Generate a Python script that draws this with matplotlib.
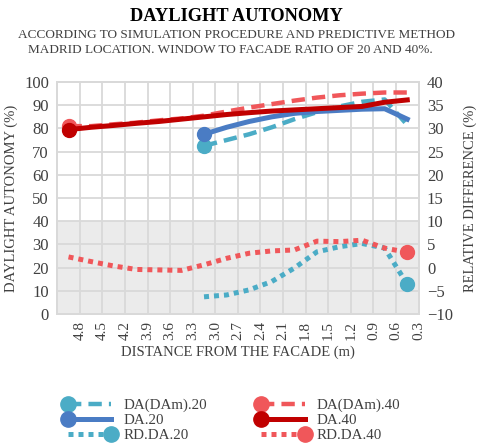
import matplotlib
matplotlib.use('Agg')
import matplotlib.pyplot as plt
from matplotlib.legend_handler import HandlerLine2D
import numpy as np

plt.rcParams['font.family'] = ['Liberation Serif', 'DejaVu Serif']

# -------- data --------
dist = [4.95, 4.65, 4.35, 4.05, 3.75, 3.45, 3.15, 2.85,
        2.55, 2.25, 1.95, 1.65, 1.35, 1.05, 0.75, 0.45]
dist20 = dist[6:]

dam20 = [72.5, 75.0, 77.5, 80.5, 84.0, 87.0, 89.5, 91.5, 92.5, 81.5]
da20 = [77.5, 80.5, 83.0, 85.0, 86.5, 87.3, 87.8, 88.3, 88.5, 84.0]
dam40 = [81.0, 81.0, 81.8, 82.5, 83.5, 84.3, 85.5, 87.3,
         89.0, 90.5, 92.0, 93.3, 94.3, 95.0, 95.5, 95.5]
da40 = [79.5, 80.5, 81.3, 82.2, 83.0, 84.0, 85.0, 86.0,
        86.8, 87.5, 88.0, 88.5, 89.0, 89.5, 91.3, 92.3]
rd20 = [-6.3, -5.9, -4.8, -3.0, -0.1, 3.4, 4.5, 5.2, 4.2, -3.6]
rd40 = [2.3, 1.3, 0.35, -0.4, -0.5, -0.6, 0.6, 2.0,
        3.1, 3.6, 3.8, 5.7, 5.6, 5.9, 4.2, 3.3]

xticks = [4.8, 4.5, 4.2, 3.9, 3.6, 3.3, 3.0, 2.7, 2.4, 2.1,
          1.8, 1.5, 1.2, 0.9, 0.6, 0.3]

# colours
c_lblue = '#4BACC6'
c_blue = '#4A7CC4'
c_dred = '#C00000'
c_lred = '#F0575A'
grid_c = '#D9D9D9'
txt_c = '#404040'


class EndMarkerHandler(HandlerLine2D):
    '''keep the marker only at one end of the legend line, like the plot'''
    def create_artists(self, legend, orig_handle, xdescent, ydescent,
                       width, height, fontsize, trans):
        arts = super().create_artists(legend, orig_handle, xdescent, ydescent,
                                      width, height, fontsize, trans)
        arts[-1].set_markevery(orig_handle.get_markevery())
        return arts


fig = plt.figure(figsize=(4.85, 4.46), dpi=100)
ax = fig.add_axes([0.118, 0.296, 0.745, 0.520])
ax2 = ax.twinx()

# shaded lower band and grid
ax.axhspan(0, 40, color='#EBEBEB', zorder=0, lw=0)
ax.set_xlim(5.1, 0.3)
ax.set_ylim(0, 100)
ax2.set_ylim(-10, 40)
ax.set_xticks(np.arange(0.3, 5.11, 0.3), minor=True)
ax.set_xticks(xticks)
ax.set_xticklabels(['%.1f' % t for t in xticks], rotation=90, fontsize=11)
ax.set_yticks(np.arange(0, 101, 10))
ax2.set_yticks(np.arange(-10, 41, 5))
ax.grid(True, which='both', axis='x', color=grid_c, lw=1.3, zorder=1)
ax.grid(True, which='major', axis='y', color=grid_c, lw=1.3, zorder=1)
ax.set_axisbelow(True)
ax.tick_params(axis='y', labelsize=12, length=0, pad=6, labelcolor=txt_c)
ax2.tick_params(axis='y', labelsize=12, length=0, pad=6, labelcolor=txt_c)
ax.tick_params(axis='x', which='both', length=0, pad=5, labelcolor=txt_c)
for a in (ax, ax2):
    for s in a.spines.values():
        s.set_color(grid_c)
        s.set_linewidth(1.3)

dash = (0, (3, 1.6))
dot = (0, (1, 1))

l1, = ax.plot(dist20, dam20, color=c_lblue, lw=3.2, ls=dash, dash_capstyle='butt',
              marker='o', ms=10, markevery=[0], label='DA(DAm).20', zorder=3)
l2, = ax.plot(dist20, da20, color=c_blue, lw=3.6, marker='o', ms=10,
              markevery=[0], label='DA.20', zorder=3)
l4, = ax.plot(dist, dam40, color=c_lred, lw=3.2, ls=dash, dash_capstyle='butt',
              marker='o', ms=10, markevery=[0], label='DA(DAm).40', zorder=3)
l5, = ax.plot(dist, da40, color=c_dred, lw=3.6, marker='o', ms=10,
              markevery=[0], label='DA.40', zorder=4)
l3, = ax2.plot(dist20, rd20, color=c_lblue, lw=3.6, ls=dot, dash_capstyle='butt',
               marker='o', ms=10, markevery=[-1], label='RD.DA.20', zorder=3)
l6, = ax2.plot(dist, rd40, color=c_lred, lw=3.6, ls=dot, dash_capstyle='butt',
               marker='o', ms=10, markevery=[-1], label='RD.DA.40', zorder=3)

ax.set_ylabel('DAYLIGHT AUTONOMY (%)', fontsize=10.5, labelpad=4, color=txt_c)
ax2.set_ylabel('RELATIVE DIFFERENCE (%)', fontsize=10.5, labelpad=8, color=txt_c)
ax.set_xlabel('DISTANCE FROM THE FACADE (m)', fontsize=10.5, labelpad=4, color=txt_c)

fig.text(0.487, 0.963, 'DAYLIGHT AUTONOMY', ha='center', va='center',
         fontsize=13.2, fontweight='bold')
fig.text(0.487, 0.922, 'ACCORDING TO SIMULATION PROCEDURE AND PREDICTIVE METHOD',
         ha='center', va='center', fontsize=9.5, color=txt_c)
fig.text(0.475, 0.889, 'MADRID LOCATION. WINDOW TO FACADE RATIO OF 20 AND 40%.',
         ha='center', va='center', fontsize=9.5, color=txt_c)

leg = fig.legend(handles=[l1, l2, l3, l4, l5, l6], ncol=2, loc='upper center',
                 bbox_to_anchor=(0.478, 0.12), frameon=False, fontsize=10.8,
                 numpoints=2, handlelength=3.5, handletextpad=0.5,
                 columnspacing=3.3, labelspacing=0.1, borderaxespad=0,
                 markerscale=1.1,
                 handler_map={l: EndMarkerHandler() for l in (l1, l2, l3, l4, l5, l6)})
for t in leg.get_texts():
    t.set_color(txt_c)

fig.savefig('out.png', dpi=100)
